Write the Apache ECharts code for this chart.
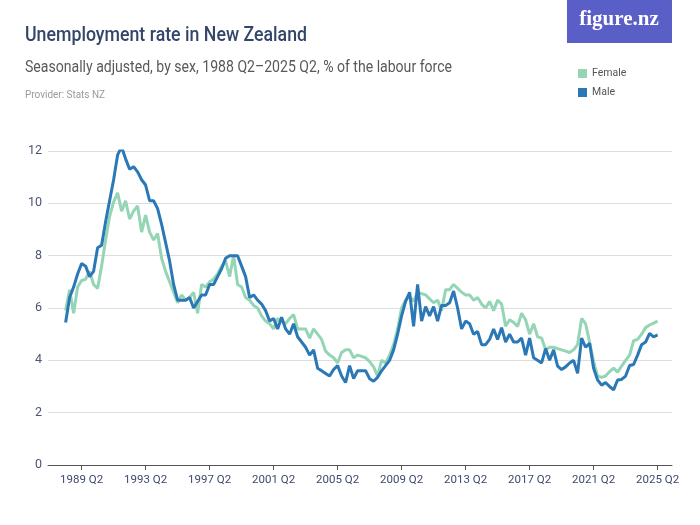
<!DOCTYPE html>
<html>
<head>
<meta charset="utf-8">
<script src="https://cdn.jsdelivr.net/npm/echarts@6/dist/echarts.min.js"></script>
<style>html,body{margin:0;padding:0;background:#fff}#c{width:700px;height:525px}</style>
</head>
<body>
<div id="c"></div>
<script>
var FONT = "Roboto, 'Liberation Sans', sans-serif";
var startYear = 1988, startQuarter = 2;
var tickIndex = [4, 20, 36, 52, 68, 84, 100, 116, 132, 148];
var tickLabels = ['1989 Q2','1993 Q2','1997 Q2','2001 Q2','2005 Q2','2009 Q2','2013 Q2','2017 Q2','2021 Q2','2025 Q2'];
var female = [5.9,6.7,5.8,6.8,7.05,7.1,7.4,6.9,6.75,7.6,8.6,9.5,10.05,10.4,9.7,10.1,9.4,9.7,9.9,8.9,9.55,8.9,8.6,8.85,
  7.9,7.4,7.0,6.6,6.2,6.5,6.3,6.4,6.6,5.8,6.9,6.8,7.0,7.1,7.3,7.6,7.8,7.2,8.0,6.9,6.8,6.4,6.3,6.1,6.0,5.7,
  5.5,5.4,5.2,5.6,5.5,5.4,5.6,5.75,5.2,5.2,5.2,4.85,5.2,5.0,4.8,4.35,4.2,4.1,3.9,4.3,4.4,4.4,4.1,4.2,4.15,
  4.1,3.95,3.75,3.4,4.0,3.9,4.2,4.6,5.2,6.0,6.3,6.45,6.25,6.6,6.55,6.5,6.35,6.2,6.3,5.9,6.7,6.7,6.9,6.75,6.6,
  6.5,6.5,6.3,6.4,6.15,6.0,6.25,5.9,6.3,6.15,5.3,5.55,5.45,5.3,5.8,5.55,5.0,5.4,4.9,4.85,4.4,4.5,4.5,4.45,
  4.4,4.35,4.3,4.4,4.6,5.6,5.4,4.7,3.95,3.4,3.35,3.4,3.57,3.7,3.55,3.78,4.0,4.2,4.75,4.8,5.0,5.25,5.35,5.42,5.5];
var male = [5.45,6.4,6.8,7.3,7.7,7.6,7.2,7.4,8.3,8.4,9.3,10.1,10.9,11.85,12.15,11.7,11.3,11.4,11.2,10.9,10.7,10.1,10.1,9.8,
  9.2,8.5,7.8,6.9,6.3,6.3,6.3,6.4,6.0,6.25,6.5,6.5,6.9,6.9,7.2,7.5,7.9,8.0,8.0,8.0,7.6,7.2,6.4,6.5,6.3,6.15,
  5.9,5.5,5.6,5.2,5.65,5.2,5.0,5.4,4.9,4.7,4.5,4.2,4.4,3.7,3.6,3.5,3.4,3.65,3.8,3.4,3.15,3.8,3.3,3.6,3.6,
  3.6,3.3,3.2,3.35,3.6,3.8,4.0,4.4,5.0,5.7,6.25,6.6,5.3,6.9,5.5,6.05,5.7,6.05,5.5,6.1,6.1,6.2,6.65,6.0,5.2,
  5.5,5.4,5.0,5.1,4.6,4.6,4.8,5.2,4.8,5.25,4.7,5.0,4.7,4.7,4.85,4.2,4.85,4.1,4.0,3.9,4.45,4.0,4.4,3.78,
  3.65,3.75,3.9,4.0,3.5,4.85,4.5,4.65,3.7,3.25,3.05,3.15,3.0,2.87,3.25,3.27,3.4,3.8,3.84,4.2,4.6,4.7,5.03,4.9,4.97];

var quarters = [];
for (var k = 0; k < male.length; k++) {
  var q = startQuarter - 1 + k;
  quarters.push((startYear + Math.floor(q / 4)) + ' Q' + (q % 4 + 1));
}
function pairs(arr) { return arr.map(function (v, i) { return [i, v]; }); }

var mctx = document.createElement('canvas').getContext('2d');
function fitScale(text, size, weight, target) {
  mctx.font = weight + ' ' + size + 'px ' + FONT;
  var w = mctx.measureText(text).width;
  return w > 0 ? target / w : 1;
}
function narrowText(text, x, y, size, weight, color, target) {
  return {type: 'text', x: x, y: y, scaleX: fitScale(text, size, weight, target), scaleY: 1,
    style: {text: text, fontSize: size, fontFamily: FONT, fontWeight: weight, fill: color, verticalAlign: 'top'}};
}

var titleText = 'Unemployment rate in New Zealand';
var subText = 'Seasonally adjusted, by sex, 1988 Q2\u20132025 Q2, % of the labour force';
var provText = 'Provider: Stats NZ';

var chart = echarts.init(document.getElementById('c'), null, {renderer: 'canvas'});
chart.setOption({
  animation: false,
  backgroundColor: '#ffffff',
  graphic: [
    narrowText(titleText, 25, 26, 20, '500', '#33466a', 282),
    narrowText(subText, 25, 60, 16, 'normal', '#595959', 427),
    narrowText(provText, 25, 90, 11, 'normal', '#9a9a9a', 80),
    {type: 'rect', shape: {x: 567, y: 0, width: 105, height: 43}, style: {fill: '#5a5ec7'}},
    {type: 'text', x: 619, y: 20, style: {text: 'figure.nz', fontSize: 21, fontFamily: "'Liberation Serif','DejaVu Serif',serif", fontWeight: 'bold', fill: '#ffffff', align: 'center', verticalAlign: 'middle'}}
  ],
  legend: {
    orient: 'vertical', left: 573, top: 63, itemWidth: 9, itemHeight: 9, itemGap: 8,
    icon: 'rect',
    textStyle: {fontSize: 10.5, fontFamily: FONT, color: '#555'},
    data: ['Female', 'Male']
  },
  grid: {left: 48, right: 28, top: 151, bottom: 60},
  xAxis: {
    type: 'value', min: -4.4, max: 151.6,
    axisLine: {show: true, lineStyle: {color: '#555', width: 1}},
    axisTick: {show: true, length: 5, lineStyle: {color: '#555'}, customValues: tickIndex},
    axisLabel: {customValues: tickIndex, margin: 9, fontSize: 11.5, fontFamily: FONT, color: '#3d4a6a',
      formatter: function (v) { var j = tickIndex.indexOf(Math.round(v)); return j >= 0 ? tickLabels[j] : ''; }},
    splitLine: {show: false}
  },
  yAxis: {
    type: 'value', min: 0, max: 12, interval: 2,
    axisLine: {show: false}, axisTick: {show: false},
    axisLabel: {margin: 6, fontSize: 12.5, fontFamily: FONT, color: '#4a5570'},
    splitLine: {lineStyle: {color: '#dddddd', width: 1}}
  },
  series: [
    {name: 'Female', type: 'line', data: pairs(female), showSymbol: false, symbol: 'none',
      lineStyle: {color: '#94d5b6', width: 3}, itemStyle: {color: '#94d5b6'}},
    {name: 'Male', type: 'line', data: pairs(male), showSymbol: false, symbol: 'none',
      lineStyle: {color: '#2a78b6', width: 3}, itemStyle: {color: '#2a78b6'}}
  ]
});
</script>
</body>
</html>
